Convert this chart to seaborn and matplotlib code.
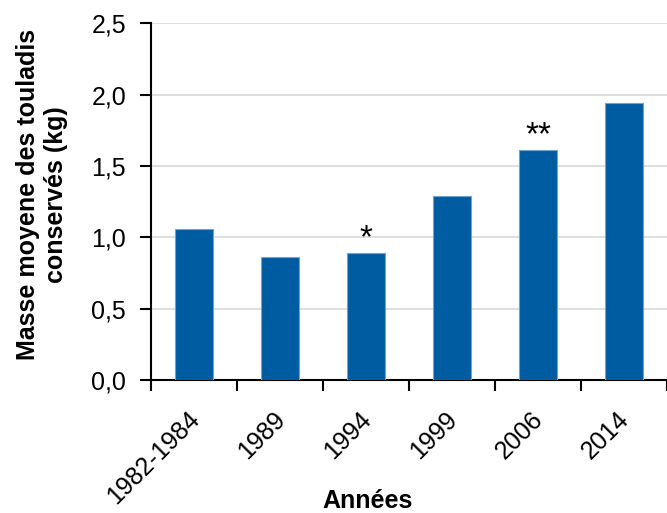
import matplotlib
matplotlib.use("Agg")
import matplotlib.pyplot as plt
import matplotlib.transforms as mtransforms
import seaborn as sns
import pandas as pd
import numpy as np
from matplotlib.ticker import FixedLocator, FuncFormatter

categories = ["1982-1984", "1989", "1994", "1999", "2006", "2014"]
values = [1.06, 0.865, 0.89, 1.29, 1.61, 1.94]
marks = ["", "", "*", "", "**", ""]

sns.set_theme(style="white")
plt.rcParams['font.family'] = ['Liberation Sans', 'DejaVu Sans']

FS = 18

df = pd.DataFrame({"Années": categories, "Masse": values})

fig = plt.figure(figsize=(6.67, 5.13), dpi=100)
ax = fig.add_axes([0.2264, 0.2587, 0.7736, 0.6963])

sns.barplot(data=df, x="Années", y="Masse", color="#005CA0", saturation=1,
            width=0.44, edgecolor="#6FA3D0", linewidth=0.8, ax=ax, zorder=3)

ax.set_ylim(0, 2.5)
ax.set_xlim(-0.5, len(categories) - 0.5)
ax.set_yticks(np.arange(0, 2.51, 0.5))
ax.yaxis.set_major_formatter(FuncFormatter(lambda v, p: f"{v:.1f}".replace(".", ",")))
ax.yaxis.grid(True, color="#D9D9D9", linewidth=1.2, zorder=0)
ax.set_axisbelow(True)

for s in ["top", "right"]:
    ax.spines[s].set_visible(False)
for s in ["left", "bottom"]:
    ax.spines[s].set_color("black")
    ax.spines[s].set_linewidth(1.5)

ax.tick_params(axis="y", which="major", direction="out", length=8, width=1.5,
               color="black", labelsize=FS, pad=10, left=True,
               labelcolor="black")
ax.tick_params(axis="x", which="major", length=0, labelsize=FS, pad=12,
               labelcolor="black")
ax.xaxis.set_minor_locator(FixedLocator(np.arange(-0.5, len(categories) - 0.4, 1.0)))
ax.tick_params(axis="x", which="minor", direction="out", length=8, width=1.5,
               color="black", bottom=True)

ax.set_xticks(range(len(categories)))
ax.set_xticklabels(categories, rotation=45, ha="right", va="top",
                   rotation_mode="anchor")
offset = mtransforms.ScaledTranslation(-7 / 100, -10 / 100, fig.dpi_scale_trans)
for lab in ax.get_xticklabels():
    lab.set_transform(lab.get_transform() + offset)

for i, (v, m) in enumerate(zip(values, marks)):
    if m:
        ax.text(i, v + 0.04, m, ha="center", va="baseline", fontsize=24,
                color="black")

ax.set_xlabel("Années", fontsize=FS, fontweight="bold", color="black")
ax.xaxis.set_label_coords(0.419, -0.305)
ax.set_ylabel("Masse moyene des touladis\nconservés (kg)", fontsize=FS,
              fontweight="bold", color="black", linespacing=1.2)
ax.yaxis.set_label_coords(-0.161, 0.519)

fig.savefig("out.png", dpi=100)
